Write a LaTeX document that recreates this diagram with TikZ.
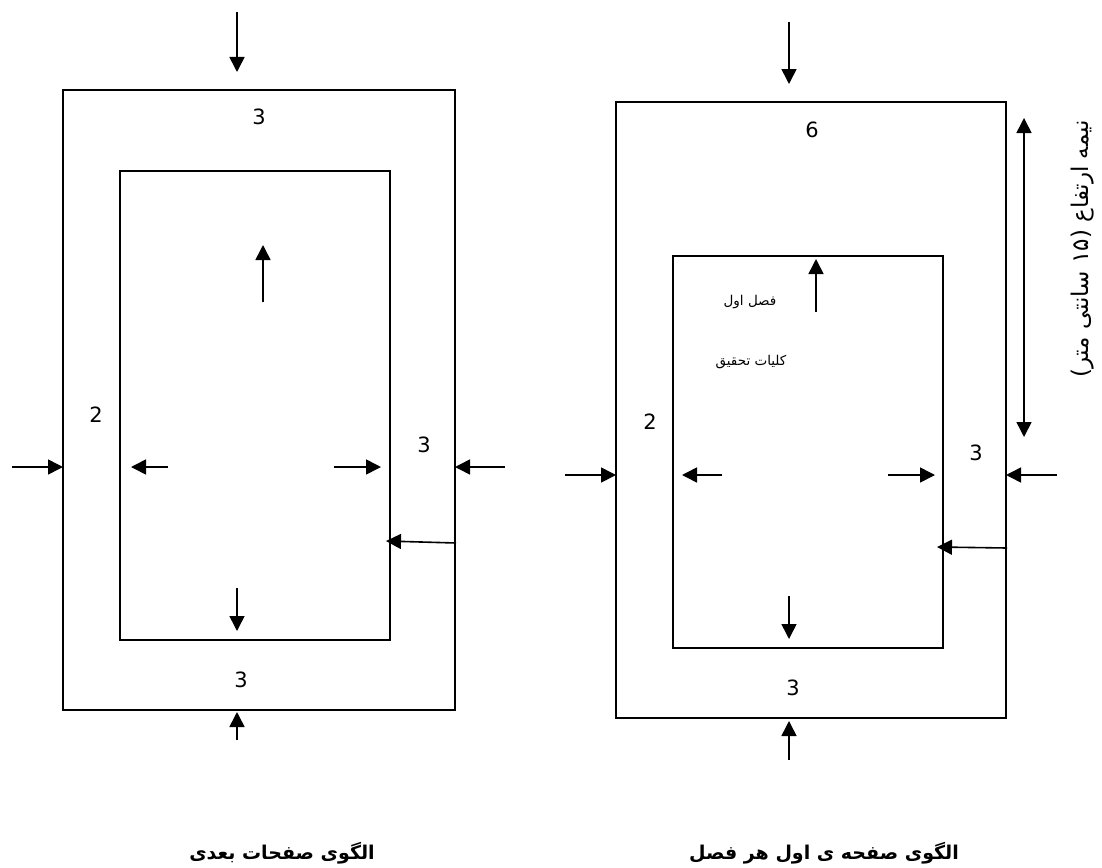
\documentclass[tikz,border=0pt]{standalone}
\usepackage{fontspec}
\usetikzlibrary{calc,arrows.meta}
\setmainfont{DejaVu Sans}
\newfontfamily\farsi[Script=Arabic]{DejaVu Sans}
\TeXXeTstate=1

\begin{document}
\begin{tikzpicture}[x=1pt,y=-1pt,
  frame/.style={line width=1.8pt},
  pointer/.style={line width=1.6pt,-{Triangle[length=15pt,width=15pt]}},
  twoway/.style={line width=1.6pt,{Triangle[length=15pt,width=15pt]}-{Triangle[length=15pt,width=15pt]}},
  num/.style={font=\fontsize{21}{24}\selectfont},
  farsitext/.style={font=\fontsize{13.5}{16}\selectfont\farsi},
  pagetitle/.style={font=\fontsize{19}{23}\selectfont\farsi\bfseries}]
\useasboundingbox (0,0) rectangle (1102,867);

% left page: next pages
\coordinate (A1) at (63,90);
\coordinate (B1) at (455,710);
\coordinate (C1) at (120,171);
\coordinate (D1) at (390,640);
\draw[frame] (A1) rectangle (B1);
\draw[frame] (C1) rectangle (D1);
\coordinate (t1) at (237,12);   \coordinate (t2) at (237,72);
\coordinate (b1) at (237,740);  \coordinate (b2) at (237,712);
\coordinate (l1) at (12,467);   \coordinate (l2) at (63,467);
\coordinate (r1) at (505,467);  \coordinate (r2) at (455,467);
\coordinate (il1) at (168,467); \coordinate (il2) at (131,467);
\coordinate (ir1) at (334,467); \coordinate (ir2) at (381,467);
\coordinate (iu1) at (263,302); \coordinate (iu2) at (263,245);
\coordinate (id1) at (237,588); \coordinate (id2) at (237,631);
\coordinate (s1) at (456,543);  \coordinate (s2) at (386,541);
\foreach \p in {t,b,l,r,il,ir,iu,id,s}
  \draw[pointer] (\p1) -- (\p2);
\node[num] (top1) at (259,117) {3};
\node[num] (left1) at (96,415) {2};
\node[num] (right1) at (424,445) {3};
\node[num] (bot1) at (241,680) {3};
\node[pagetitle] (title1) at (282,853) {\beginR الگوی صفحات بعدی\endR};

% right page: first page of a chapter
\coordinate (A2) at (616,102);
\coordinate (B2) at (1006,718);
\coordinate (C2) at (673,256);
\coordinate (D2) at (943,648);
\draw[frame] (A2) rectangle (B2);
\draw[frame] (C2) rectangle (D2);
\coordinate (t1) at (789,22);   \coordinate (t2) at (789,84);
\coordinate (b1) at (789,760);  \coordinate (b2) at (789,721);
\coordinate (l1) at (565,475);  \coordinate (l2) at (616,475);
\coordinate (r1) at (1057,475); \coordinate (r2) at (1006,475);
\coordinate (il1) at (722,475); \coordinate (il2) at (682,475);
\coordinate (ir1) at (888,475); \coordinate (ir2) at (935,475);
\coordinate (iu1) at (816,312); \coordinate (iu2) at (816,259);
\coordinate (id1) at (789,596); \coordinate (id2) at (789,639);
\coordinate (s1) at (1007,548); \coordinate (s2) at (937,547);
\foreach \p in {t,b,l,r,il,ir,iu,id,s}
  \draw[pointer] (\p1) -- (\p2);
\coordinate (h1) at (1024,118);
\coordinate (h2) at (1024,437);
\draw[twoway] (h1) -- (h2);
\node[num] (top2) at (812,130) {6};
\node[num] (left2) at (650,422) {2};
\node[num] (right2) at (976,453) {3};
\node[num] (bot2) at (793,688) {3};
\node[farsitext] (chap) at (750,302) {\beginR فصل اول\endR};
\node[farsitext] (gen) at (751,362) {\beginR کلیات تحقیق\endR};
\node[font=\fontsize{23}{26}\selectfont\farsi,rotate=90] (half) at (1083,249)
  {\beginR نیمه ارتفاع (۱۵ سانتی متر)\endR};
\node[pagetitle] (title2) at (824,853) {\beginR الگوی صفحه ی اول هر فصل\endR};
\end{tikzpicture}
\end{document}
